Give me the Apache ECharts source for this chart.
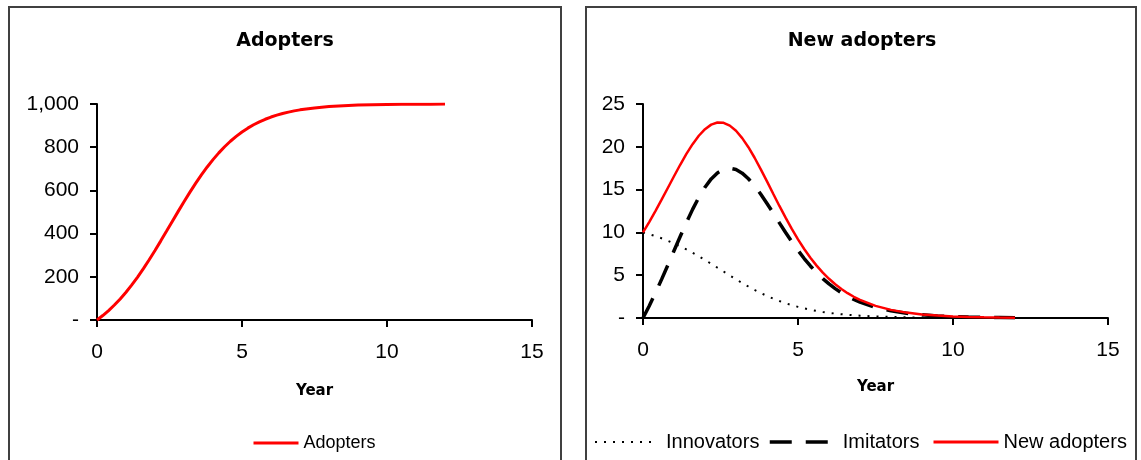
<!DOCTYPE html>
<html><head><meta charset="utf-8">
<script src="https://cdn.jsdelivr.net/npm/echarts@6/dist/echarts.min.js"></script>
<style>html,body{margin:0;padding:0;background:#fff}#c{width:1141px;height:460px}</style>
</head><body><div id="c"></div>
<script>
// Time (years)
const years = [0,0.2,0.4,0.6,0.8,1.0,1.2,1.4,1.6,1.8,2.0,2.2,2.4,2.6,2.8,3.0,3.2,3.4,3.6,3.8,4.0,4.2,4.4,4.6,4.8,5.0,5.2,5.4,5.6,5.8,6.0,6.2,6.4,6.6,6.8,7.0,7.5,8.0,8.5,9.0,9.5,10.0,10.5,11.0,11.5,12.0];
// Cumulative adopters
const adopters = [0,20.6,43.6,69.3,97.6,128.7,162.5,198.9,237.8,279.0,321.9,366.4,411.7,457.4,502.9,547.5,590.9,632.4,671.7,708.5,742.5,773.7,802.0,827.5,850.3,870.5,888.3,903.9,917.5,929.3,939.6,948.4,956.0,962.5,968.1,972.9,981.9,988.0,992.1,994.8,996.5,997.7,998.5,999.0,999.3,999.6];
// New adopters split
const innovators = [10.00,9.79,9.56,9.31,9.02,8.71,8.38,8.01,7.62,7.21,6.78,6.34,5.88,5.43,4.97,4.53,4.09,3.68,3.28,2.92,2.57,2.26,1.98,1.73,1.50,1.30,1.12,0.96,0.83,0.71,0.60,0.52,0.44,0.38,0.32,0.27,0.18,0.12,0.08,0.05,0.03,0.02,0.02,0.01,0.01,0.00];
const imitators = [0,1.41,2.92,4.51,6.16,7.85,9.52,11.15,12.69,14.08,15.28,16.25,16.95,17.37,17.50,17.34,16.92,16.27,15.44,14.46,13.38,12.26,11.11,9.99,8.91,7.89,6.95,6.08,5.30,4.60,3.98,3.43,2.95,2.53,2.16,1.85,1.24,0.83,0.55,0.37,0.24,0.16,0.11,0.07,0.05,0.03];
const newAdopters = [10.00,11.21,12.49,13.82,15.19,16.56,17.90,19.17,20.31,21.29,22.06,22.59,22.84,22.80,22.47,21.87,21.01,19.95,18.72,17.37,15.96,14.52,13.09,11.72,10.41,9.19,8.06,7.04,6.12,5.30,4.58,3.94,3.39,2.90,2.48,2.12,1.42,0.95,0.63,0.42,0.28,0.18,0.12,0.08,0.05,0.03];

const titles = ['Adopters', 'New adopters'];
const xName = 'Year';

const pairs = arr => years.map((y, i) => [y, arr[i]]);
const fmt = v => v === 0 ? '-' : v.toLocaleString('en-US');

const labelFont = {fontFamily: 'Liberation Sans', fontSize: 21, color: '#000'};
const nameFont = {fontFamily: 'DejaVu Sans', fontWeight: 'bold', fontSize: 15, color: '#000'};
const axisLine = {show: true, lineStyle: {color: '#000', width: 2}};
const axisTick = {show: true, length: 7, lineStyle: {color: '#000', width: 2}};

function xAxis(gi, gap) {
  return {gridIndex: gi, type: 'value', min: 0, max: 15, interval: 5,
    axisLine, axisTick, splitLine: {show: false},
    axisLabel: Object.assign({margin: 22}, labelFont),
    name: xName, nameLocation: 'middle', nameGap: gap, nameTextStyle: nameFont};
}
function yAxis(gi, max, interval) {
  return {gridIndex: gi, type: 'value', min: 0, max, interval,
    axisLine, axisTick, splitLine: {show: false},
    axisLabel: Object.assign({margin: 18, formatter: fmt}, labelFont)};
}

const legendText = size => ({fontFamily: 'Liberation Sans', fontSize: size, color: '#000'});

const chart = echarts.init(document.getElementById('c'), null, {renderer: 'canvas'});
chart.setOption({
  animation: false,
  backgroundColor: '#fff',
  graphic: [
    {type: 'rect', shape: {x: 9, y: 7, width: 552, height: 470}, style: {fill: 'none', stroke: '#404040', lineWidth: 2}, silent: true},
    {type: 'rect', shape: {x: 586, y: 7, width: 550, height: 470}, style: {fill: 'none', stroke: '#404040', lineWidth: 2}, silent: true}
  ],
  title: [
    {text: titles[0], left: 285, top: 32, textAlign: 'center', padding: 0,
     textStyle: {fontFamily: 'DejaVu Sans', fontWeight: 'bold', fontSize: 19, color: '#000'}},
    {text: titles[1], left: 862, top: 32, textAlign: 'center', padding: 0,
     textStyle: {fontFamily: 'DejaVu Sans', fontWeight: 'bold', fontSize: 19, color: '#000'}}
  ],
  legend: [
    {data: ['Adopters'], left: 252, top: 434, padding: 0, itemWidth: 45, itemHeight: 20,
     itemStyle: {opacity: 0}, lineStyle: {width: 3}, textStyle: legendText(18)},
    {data: ['Innovators'], left: 594, top: 432, padding: 0, itemWidth: 61, itemHeight: 22,
     itemStyle: {opacity: 0}, lineStyle: {width: 2}, textStyle: Object.assign({padding: [0,0,0,5]}, legendText(20))},
    {data: ['Imitators'], left: 768, top: 432, padding: 0, itemWidth: 60, itemHeight: 22,
     itemStyle: {opacity: 0}, lineStyle: {width: 3.5}, textStyle: Object.assign({padding: [0,0,0,8]}, legendText(20))},
    {data: ['New adopters'], left: 932, top: 432, padding: 0, itemWidth: 65, itemHeight: 22,
     itemStyle: {opacity: 0}, lineStyle: {width: 3}, textStyle: legendText(20)}
  ],
  grid: [
    {left: 97, right: 1141 - 532, top: 104, bottom: 460 - 320},
    {left: 643, right: 1141 - 1108, top: 104, bottom: 460 - 318}
  ],
  xAxis: [xAxis(0, 64), xAxis(1, 62)],
  yAxis: [yAxis(0, 1000, 200), yAxis(1, 25, 5)],
  series: [
    {name: 'Adopters', type: 'line', xAxisIndex: 0, yAxisIndex: 0, data: pairs(adopters),
     symbol: 'none', lineStyle: {color: '#ff0000', width: 3}, itemStyle: {color: '#ff0000'}},
    {name: 'Innovators', type: 'line', xAxisIndex: 1, yAxisIndex: 1, data: pairs(innovators),
     symbol: 'none', lineStyle: {color: '#000', width: 2, type: [2, 7]}, itemStyle: {color: '#000'}},
    {name: 'Imitators', type: 'line', xAxisIndex: 1, yAxisIndex: 1, data: pairs(imitators),
     symbol: 'none', lineStyle: {color: '#000', width: 3.5, type: [22, 14]}, itemStyle: {color: '#000'}},
    {name: 'New adopters', type: 'line', xAxisIndex: 1, yAxisIndex: 1, data: pairs(newAdopters),
     symbol: 'none', lineStyle: {color: '#ff0000', width: 2.5}, itemStyle: {color: '#ff0000'}}
  ]
});
</script>
</body></html>
